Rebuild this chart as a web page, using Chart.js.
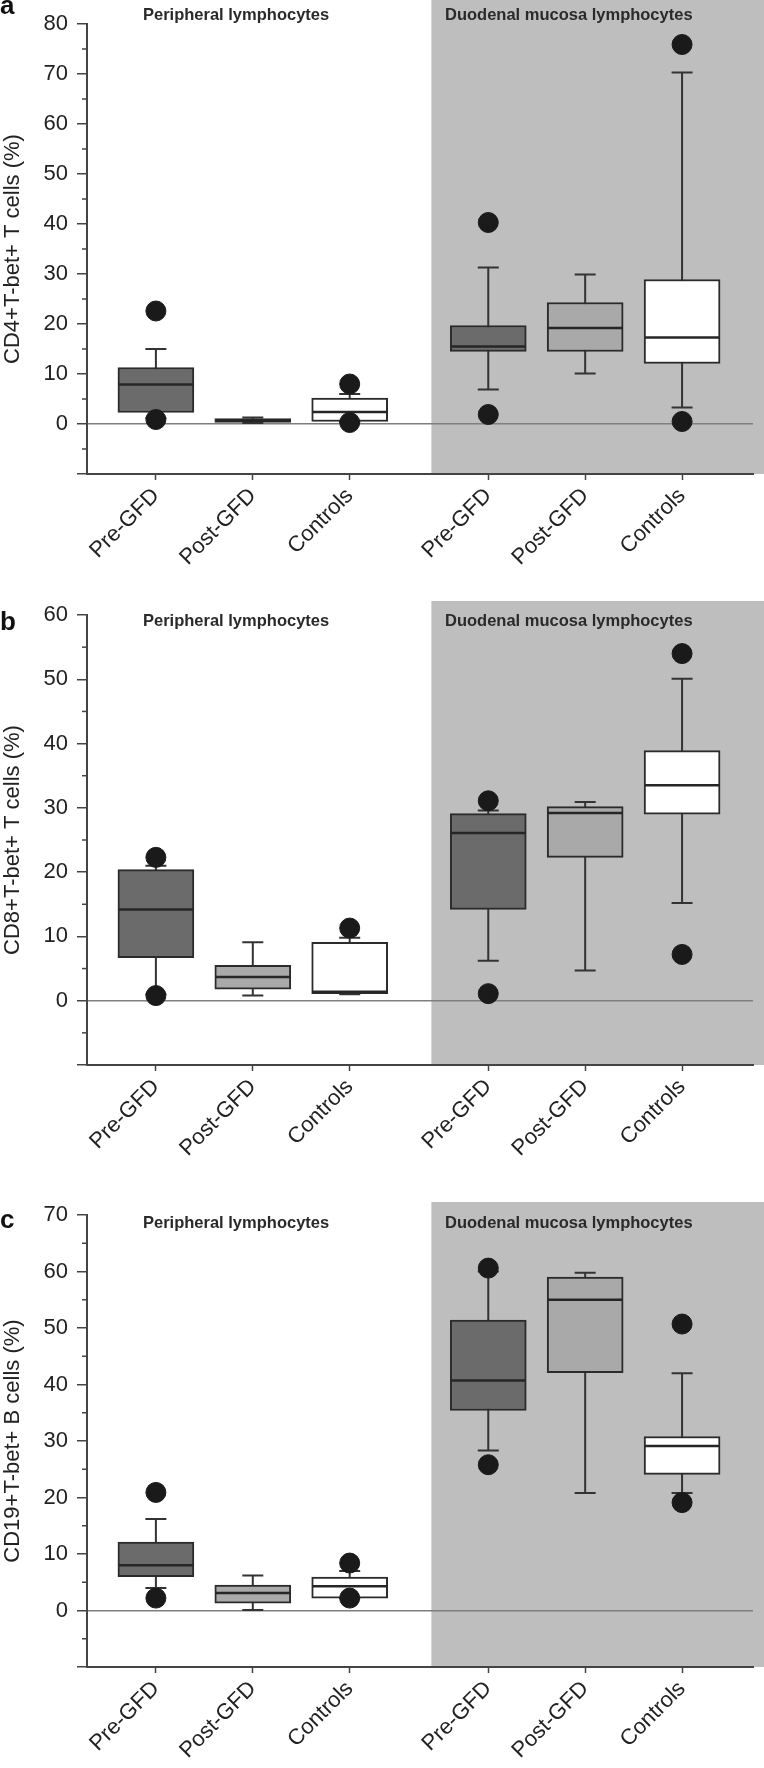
<!DOCTYPE html>
<html>
<head>
  <meta charset="UTF-8">
  <title>T-bet+ lymphocytes</title>
  <script src="https://cdn.jsdelivr.net/npm/chart.js"></script>
  <style>
    body { margin: 0; background: #fff; }
    #wrap { position: relative; width: 764px; height: 1768px; }
    canvas { position: absolute; left: 0; }
  </style>
</head>
<body>
<div id="wrap">
  <canvas id="panelA" width="764" height="585" style="top:0px"></canvas>
  <canvas id="panelB" width="764" height="590" style="top:585px"></canvas>
  <canvas id="panelC" width="764" height="593" style="top:1175px"></canvas>
</div>
<script>
// categories and their positions on the x axis (gap between the two groups)
const categories = ['Pre-GFD', 'Post-GFD', 'Controls', 'Pre-GFD', 'Post-GFD', 'Controls'];
const xPos = [0, 1, 2, 3.43, 4.43, 5.43];
const boxColors = ['#6b6b6b', '#a9a9a9', '#ffffff', '#6b6b6b', '#a9a9a9', '#ffffff'];

// panel a: CD4+T-bet+ T cells (%)
const cd4Q1 = [2.3, 0.3, 0.5, 14.5, 14.5, 12.1];
const cd4Q3 = [11.3, 1.1, 5.2, 19.7, 24.3, 28.9];
const cd4Median = [7.9, 0.7, 2.4, 15.5, 19.2, 17.3];
const cd4Low = [1.2, 0.2, 0.4, 6.9, 10.1, 3.3];
const cd4High = [15.0, 1.3, 6.0, 31.3, 29.9, 70.3];
const cd4Outliers = [[22.6, 0.9], [], [8.0, 0.3], [40.3, 1.9], [], [75.9, 0.5]];
const cd4Ticks = [-10, 80];

// panel b: CD8+T-bet+ T cells (%)
const cd8Q1 = [6.7, 1.8, 1.1, 14.2, 22.3, 29.0];
const cd8Q3 = [20.4, 5.5, 9.1, 29.1, 30.2, 38.9];
const cd8Median = [14.2, 3.7, 1.4, 26.1, 29.2, 33.5];
const cd8Low = [1.0, 0.8, 1.0, 6.2, 4.7, 15.2];
const cd8High = [21.0, 9.1, 9.8, 29.6, 30.9, 50.1];
const cd8Outliers = [[22.3, 0.8], [], [11.3], [31.1, 1.1], [], [54.0, 7.2]];
const cd8Ticks = [-10, 60];

// panel c: CD19+T-bet+ B cells (%)
const cd19Q1 = [6.0, 1.3, 2.2, 35.4, 42.1, 24.1];
const cd19Q3 = [12.1, 4.5, 5.9, 51.4, 59.0, 30.8];
const cd19Median = [8.0, 3.1, 4.3, 40.7, 55.0, 29.1];
const cd19Low = [4.0, 0.1, 2.2, 28.3, 20.8, 20.8];
const cd19High = [16.2, 6.2, 7.0, 60.0, 59.8, 42.0];
const cd19Outliers = [[20.9, 2.2], [], [8.4, 2.2], [60.6, 25.8], [], [50.7, 19.1]];
const cd19Ticks = [-10, 70];

const shadeFrom = 2.843;

Chart.defaults.font.family = '"Liberation Sans", Arial, Helvetica, sans-serif';
Chart.defaults.color = '#222';

// whiskers, medians, minor ticks, shading and labels
const boxPlotExtras = {
  id: 'boxPlotExtras',
  beforeDraw(chart, args, opts) {
    const ctx = chart.ctx, area = chart.chartArea, x = chart.scales.x;
    ctx.save();
    ctx.fillStyle = '#bebebe';
    const sx = x.getPixelForValue(shadeFrom);
    ctx.fillRect(sx, opts.shadeTop, chart.width - sx, area.bottom - opts.shadeTop);
    ctx.restore();
  },
  beforeDatasetDraw(chart, args, opts) {
    if (args.index !== 0) return;
    const ctx = chart.ctx, x = chart.scales.x, y = chart.scales.y;
    ctx.save();
    ctx.strokeStyle = '#333';
    ctx.lineWidth = 2;
    opts.low.forEach((lo, i) => {
      const px = x.getPixelForValue(xPos[i]);
      const yl = y.getPixelForValue(lo), yh = y.getPixelForValue(opts.high[i]);
      ctx.beginPath();
      ctx.moveTo(px, yl); ctx.lineTo(px, yh);
      ctx.moveTo(px - 10.5, yl); ctx.lineTo(px + 10.5, yl);
      ctx.moveTo(px - 10.5, yh); ctx.lineTo(px + 10.5, yh);
      ctx.stroke();
    });
    ctx.restore();
  },
  afterDatasetDraw(chart, args, opts) {
    if (args.index !== 0) return;
    const ctx = chart.ctx, x = chart.scales.x, y = chart.scales.y;
    ctx.save();
    ctx.strokeStyle = '#262626';
    ctx.lineWidth = 2.5;
    opts.median.forEach((m, i) => {
      const px = x.getPixelForValue(xPos[i]);
      const py = y.getPixelForValue(m);
      ctx.beginPath();
      ctx.moveTo(px - 37, py); ctx.lineTo(px + 37, py);
      ctx.stroke();
    });
    ctx.restore();
  },
  afterDraw(chart, args, opts) {
    const ctx = chart.ctx, area = chart.chartArea, y = chart.scales.y;
    ctx.save();
    // minor ticks every 5
    ctx.strokeStyle = '#444';
    ctx.lineWidth = 1.5;
    for (let v = y.min + 5; v < y.max; v += 10) {
      const py = y.getPixelForValue(v);
      ctx.beginPath();
      ctx.moveTo(area.left - 5, py); ctx.lineTo(area.left, py);
      ctx.stroke();
    }
    // group titles
    ctx.fillStyle = '#2a2a2a';
    ctx.font = 'bold 16.5px "Liberation Sans", Arial, sans-serif';
    ctx.textBaseline = 'middle';
    ctx.textAlign = 'left';
    ctx.fillText('Peripheral lymphocytes', 143, opts.titleY);
    ctx.fillText('Duodenal mucosa lymphocytes', 445, opts.titleY);
    // panel letter
    ctx.fillStyle = '#111';
    ctx.font = 'bold 26px "Liberation Sans", Arial, sans-serif';
    ctx.textBaseline = 'alphabetic';
    ctx.fillText(opts.letter, 0, opts.letterY);
    ctx.restore();
  }
};

function makePanel(id, cfg) {
  const outlierPts = [];
  cfg.outliers.forEach((list, i) => list.forEach(v => outlierPts.push({ x: xPos[i], y: v })));
  new Chart(document.getElementById(id), {
    type: 'bar',
    data: {
      datasets: [{
        type: 'bar',
        data: cfg.q1.map((q, i) => ({ x: xPos[i], y: [q, cfg.q3[i]] })),
        backgroundColor: boxColors,
        borderColor: '#2b2b2b',
        borderWidth: 2,
        borderSkipped: false,
        barThickness: 76,
        order: 2
      }, {
        type: 'scatter',
        data: outlierPts,
        pointRadius: 10,
        pointBackgroundColor: '#1a1a1a',
        pointBorderColor: '#1a1a1a',
        pointBorderWidth: 1,
        order: 1
      }]
    },
    options: {
      responsive: false,
      animation: false,
      devicePixelRatio: 1,
      layout: { padding: { top: cfg.padTop, left: 0, right: 0, bottom: 0 } },
      plugins: {
        legend: { display: false },
        tooltip: { enabled: false },
        boxPlotExtras: {
          low: cfg.low, high: cfg.high, median: cfg.median,
          shadeTop: cfg.shadeTop, titleY: cfg.titleY,
          letter: cfg.letter, letterY: cfg.letterY
        }
      },
      scales: {
        x: {
          type: 'linear',
          min: -0.711,
          max: 6.162,
          offset: false,
          afterBuildTicks: s => { s.ticks = xPos.map(v => ({ value: v })); },
          afterFit: s => { s.height = cfg.xHeight; },
          ticks: {
            autoSkip: false,
            minRotation: 45,
            maxRotation: 45,
            padding: 3,
            font: { size: 22 },
            color: '#222',
            callback: (v, i) => categories[i]
          },
          grid: { offset: false, drawOnChartArea: false, tickLength: 6, tickColor: '#444', tickWidth: 1.5 },
          border: { color: '#444', width: 2 }
        },
        y: {
          type: 'linear',
          min: cfg.ticks[0],
          max: cfg.ticks[1],
          afterFit: s => { s.width = 87; },
          ticks: {
            stepSize: 10,
            padding: 9,
            font: { size: 22 },
            color: '#222',
            callback: v => (v < 0 ? '' : v)
          },
          grid: {
            drawOnChartArea: true,
            color: c => (c.tick && c.tick.value === 0 ? '#7f7f7f' : 'rgba(0,0,0,0)'),
            lineWidth: 1.5,
            tickLength: 10,
            tickColor: '#444',
            tickWidth: 1.5
          },
          border: { color: '#444', width: 2 },
          title: {
            display: true,
            text: cfg.yTitle,
            font: { size: 22 },
            color: '#222',
            padding: { top: 0, bottom: 0 }
          }
        }
      }
    },
    plugins: [boxPlotExtras]
  });
}

makePanel('panelA', {
  q1: cd4Q1, q3: cd4Q3, median: cd4Median, low: cd4Low, high: cd4High, outliers: cd4Outliers,
  ticks: cd4Ticks, yTitle: 'CD4+T-bet+ T cells (%)',
  padTop: 24, xHeight: 111, shadeTop: 0, titleY: 15, letter: 'a', letterY: 14
});
makePanel('panelB', {
  q1: cd8Q1, q3: cd8Q3, median: cd8Median, low: cd8Low, high: cd8High, outliers: cd8Outliers,
  ticks: cd8Ticks, yTitle: 'CD8+T-bet+ T cells (%)',
  padTop: 30, xHeight: 110, shadeTop: 16, titleY: 36, letter: 'b', letterY: 45
});
makePanel('panelC', {
  q1: cd19Q1, q3: cd19Q3, median: cd19Median, low: cd19Low, high: cd19High, outliers: cd19Outliers,
  ticks: cd19Ticks, yTitle: 'CD19+T-bet+ B cells (%)',
  padTop: 40, xHeight: 101, shadeTop: 27, titleY: 48, letter: 'c', letterY: 53
});
</script>
</body>
</html>
